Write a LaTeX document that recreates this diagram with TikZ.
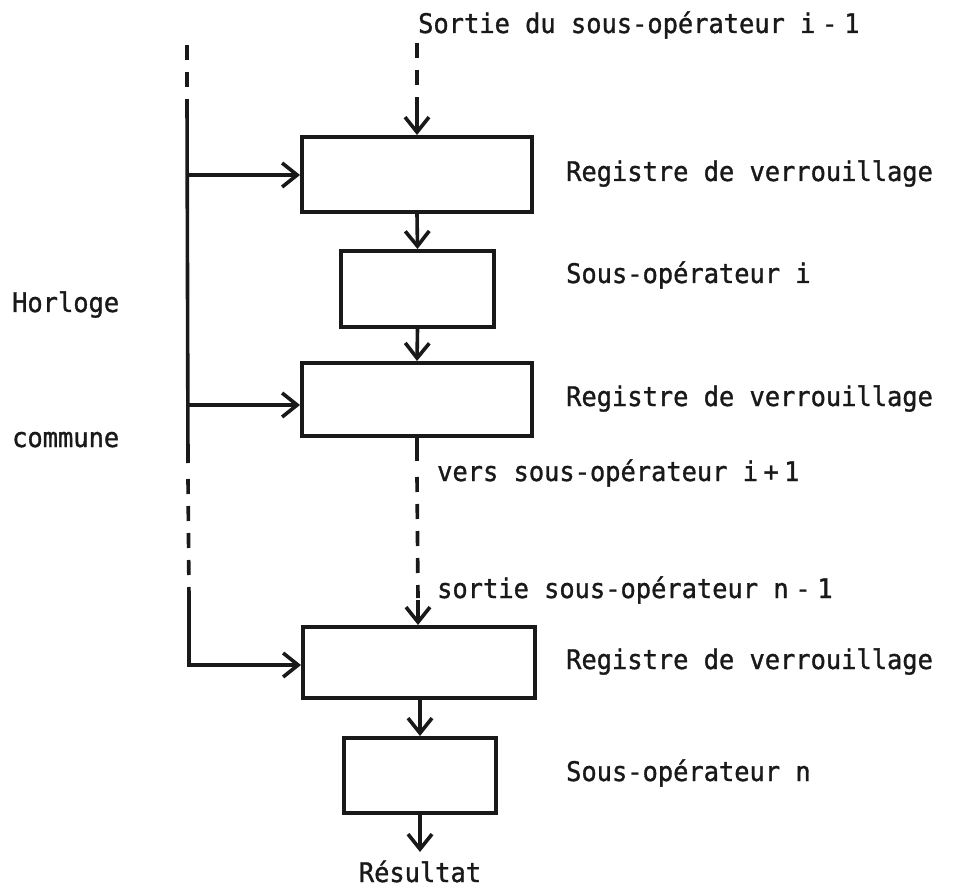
\documentclass[tikz,border=0pt]{standalone}
\usepackage{fontspec}
\newfontfamily\typewriter[FakeStretch=0.94,FakeBold=1.2]{DejaVu Sans Mono}
\usetikzlibrary{arrows.meta}
\begin{document}
\begin{tikzpicture}[x=1pt,y=-1pt,
  every node/.style={font=\typewriter\fontsize{27}{32}\selectfont, text=black!90},
  block/.style={draw=black!90, line width=4pt, inner sep=0pt},
  wire/.style={line width=3.6pt, draw=black!90},
  arr/.style={wire, -{Straight Barb[length=15pt,width=24pt,line width=3.6pt]}},
  dashwire/.style={wire, dash pattern=on 15pt off 12pt},
  lbl/.style={anchor=base west, inner sep=0pt}]
\useasboundingbox (0,0) rectangle (958,890);

% pipeline blocks
\node[block, minimum width=230pt, minimum height=75pt] (reg1) at (417,174.5) {};
\node[block, minimum width=153pt, minimum height=76pt] (op1)  at (417.5,289) {};
\node[block, minimum width=230pt, minimum height=73pt] (reg2) at (417,399.5) {};
\node[block, minimum width=232pt, minimum height=71pt] (reg3) at (419,662.5) {};
\node[block, minimum width=152pt, minimum height=75pt] (opn)  at (420,775.5) {};

% labels
\node[lbl] (tin)  at (418,33)  {Sortie du sous-opérateur i\hspace{0.25em}-\hspace{0.25em}1};
\node[lbl] (t1)   at (566,181) {Registre de verrouillage};
\node[lbl] (t2)   at (566,283) {Sous-opérateur i};
\node[lbl] (t3)   at (566,406) {Registre de verrouillage};
\node[lbl] (t4)   at (437,481) {vers sous-opérateur i\hspace{0.2em}+\hspace{0.2em}1};
\node[lbl] (t5)   at (437,598) {sortie sous-opérateur n\hspace{0.25em}-\hspace{0.25em}1};
\node[lbl] (t6)   at (566,669) {Registre de verrouillage};
\node[lbl] (t7)   at (566,781) {Sous-opérateur n};
\node[lbl] (hor)  at (12,312)  {Horloge};
\node[lbl] (com)  at (12,447)  {commune};
\node[anchor=base, inner sep=0pt] (res) at (420,882) {Résultat};

% common clock line
\coordinate (ck0) at (187,45);
\coordinate (ck1) at (187,101);
\coordinate (ka)  at (187,175);
\coordinate (kb)  at (188,405);
\coordinate (ck2) at (188,463);
\coordinate (ck3) at (189,597);
\coordinate (kc)  at (189,665);
\draw[dashwire] (ck0) -- (ck1);
\draw[wire] (ck1) -- (ck2);
\draw[dashwire] (ck2) ++(0,16) -- (ck3);
\draw[arr] (ka) -- (ka -| reg1.west);
\draw[arr] (kb) -- (kb -| reg2.west);
\draw[arr, line cap=rect] (ck3) -- (kc) -- (kc -| reg3.west);

% data path
\coordinate (d0) at (417,43);
\coordinate (d1) at (417,100);
\draw[dashwire] (d0) -- (d1);
\draw[arr] (d1) -- (reg1.north);
\draw[arr] (reg1.south) -- (op1.north);
\draw[arr] (op1.south) -- (reg2.north);
\coordinate (d2) at (417,461);
\coordinate (d3) at (418,600);
\draw[wire] (reg2.south) -- (d2);
\draw[dashwire] (d2) ++(0,16) -- (418,598);
\draw[arr] (d3) -- (reg3.north -| d3);
\draw[arr] (reg3.south -| opn.north) -- (opn.north);
\draw[arr] (opn.south) -- ++(0,37) coordinate (out);
\end{tikzpicture}
\end{document}
